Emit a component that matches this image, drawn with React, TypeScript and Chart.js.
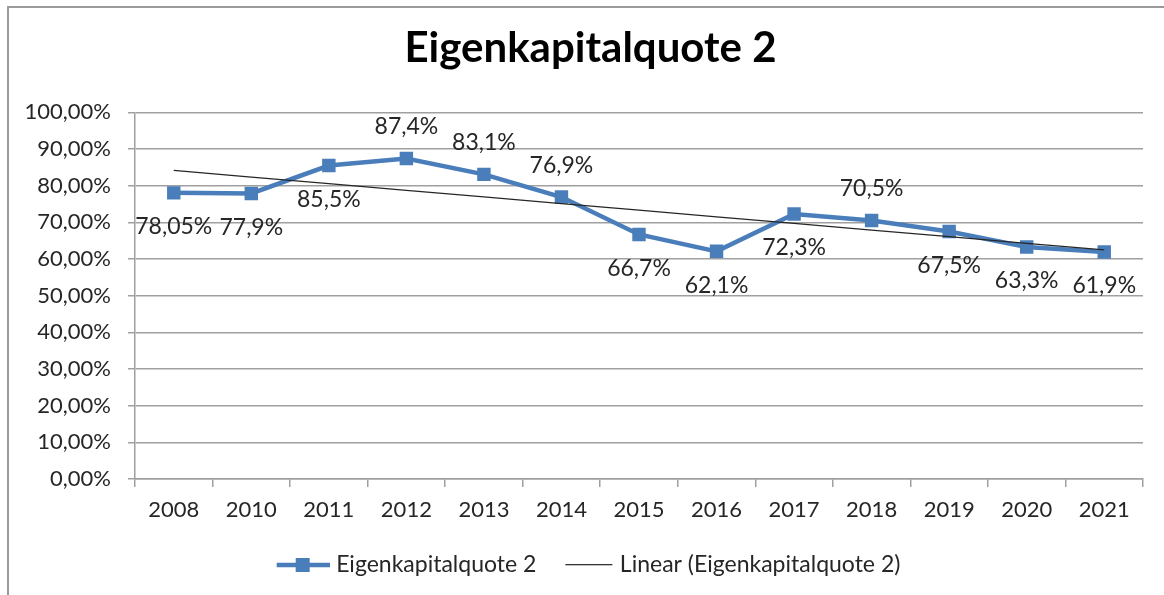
import React, { useEffect, useRef } from "react";
import { Chart, registerables } from "chart.js";

Chart.register(...registerables);

const categories = ["2008", "2010", "2011", "2012", "2013", "2014", "2015", "2016", "2017", "2018", "2019", "2020", "2021"];
const quoteValues = [78.05, 77.9, 85.5, 87.4, 83.1, 76.9, 66.7, 62.1, 72.3, 70.5, 67.5, 63.3, 61.9];
const valueLabels = ["78,05%", "77,9%", "85,5%", "87,4%", "83,1%", "76,9%", "66,7%", "62,1%", "72,3%", "70,5%", "67,5%", "63,3%", "61,9%"];
const labelSides = ["below", "below", "below", "above", "above", "above", "below", "below", "below", "above", "below", "below", "below"];
const yTicks = [0, 10, 20, 30, 40, 50, 60, 70, 80, 90, 100];

const seriesName = "Eigenkapitalquote 2";
const trendName = "Linear (Eigenkapitalquote 2)";
const titleText = "Eigenkapitalquote 2";

const FONT = "Lato, 'Open Sans', sans-serif";
const BLUE = "#4a7ebb";
const GRID = "#a0a0a0";

function linearTrend(values: number[]): number[] {
  const n = values.length;
  const mx = (n - 1) / 2;
  const my = values.reduce((a, b) => a + b, 0) / n;
  let sxy = 0;
  let sxx = 0;
  values.forEach((v, i) => {
    sxy += (i - mx) * (v - my);
    sxx += (i - mx) * (i - mx);
  });
  const slope = sxy / sxx;
  return values.map((_, i) => my + slope * (i - mx));
}

function makeSeriesSymbol(): HTMLCanvasElement {
  const c = document.createElement("canvas");
  c.width = 54;
  c.height = 16;
  const ctx = c.getContext("2d")!;
  ctx.strokeStyle = BLUE;
  ctx.lineWidth = 4.5;
  ctx.beginPath();
  ctx.moveTo(1, 8);
  ctx.lineTo(54, 8);
  ctx.stroke();
  ctx.fillStyle = BLUE;
  ctx.fillRect(20, 1, 14, 14);
  return c;
}

function makeTrendSymbol(): HTMLCanvasElement {
  const c = document.createElement("canvas");
  c.width = 54;
  c.height = 2;
  const ctx = c.getContext("2d")!;
  ctx.fillStyle = "#333";
  ctx.fillRect(6, 0, 47, 1.3);
  return c;
}

const frameBorder = {
  id: "frameBorder",
  afterLayout(chart: any) {
    // centre title and legend on the framed area, like the reference
    if (chart.titleBlock) chart.titleBlock.left = 38;
    if (chart.legend) chart.legend.left = 38;
  },
  beforeDraw(chart: any) {
    const ctx = chart.ctx;
    ctx.save();
    ctx.strokeStyle = "#9a9a9a";
    ctx.lineWidth = 2;
    ctx.beginPath();
    ctx.moveTo(1164, 7);
    ctx.lineTo(8, 7);
    ctx.lineTo(8, 595);
    ctx.stroke();
    ctx.restore();
  },
};

const dataLabels = {
  id: "dataLabels",
  afterDatasetsDraw(chart: any) {
    const meta = chart.getDatasetMeta(0);
    const ctx = chart.ctx;
    ctx.save();
    ctx.font = `23px ${FONT}`;
    ctx.fillStyle = "#262626";
    ctx.textAlign = "center";
    ctx.textBaseline = "middle";
    meta.data.forEach((pt: any, i: number) => {
      const dy = labelSides[i] === "above" ? -32 : 34;
      ctx.fillText(valueLabels[i], pt.x, pt.y + dy);
    });
    ctx.restore();
  },
};

export default function App() {
  const ref = useRef<HTMLCanvasElement | null>(null);

  useEffect(() => {
    if (!ref.current) return;
    const seriesSymbol = makeSeriesSymbol();
    const trendSymbol = makeTrendSymbol();
    const trendValues = linearTrend(quoteValues);

    const chart = new Chart(ref.current, {
      type: "line",
      data: {
        labels: categories,
        datasets: [
          {
            label: seriesName,
            data: quoteValues,
            borderColor: BLUE,
            backgroundColor: BLUE,
            borderWidth: 4.5,
            pointStyle: "rect",
            pointRadius: 9.5,
            pointBorderWidth: 0,
            pointBackgroundColor: BLUE,
            tension: 0,
            order: 1,
          },
          {
            label: trendName,
            data: trendValues,
            borderColor: "#262626",
            borderWidth: 1.3,
            pointRadius: 0,
            tension: 0,
            order: 0,
          },
        ],
      },
      options: {
        responsive: false,
        animation: false,
        layout: { padding: { left: 0, right: 21, top: 0, bottom: 8.5 } },
        plugins: {
          title: {
            display: true,
            text: titleText,
            color: "#000",
            font: { family: FONT, size: 42, weight: "bold" },
            padding: { top: 23, bottom: 39 },
          },
          legend: {
            position: "bottom",
            labels: {
              usePointStyle: true,
              pointStyleWidth: 44,
              padding: 28,
              color: "#262626",
              font: { family: FONT, size: 23 },
              generateLabels: () => [
                { text: seriesName, pointStyle: seriesSymbol, datasetIndex: 0, fillStyle: BLUE, strokeStyle: BLUE, lineWidth: 0, hidden: false, fontColor: "#262626" },
                { text: trendName, pointStyle: trendSymbol, datasetIndex: 1, fillStyle: "#333", strokeStyle: "#333", lineWidth: 0, hidden: false, fontColor: "#262626" },
              ] as any,
            },
          },
          tooltip: { enabled: false },
        },
        scales: {
          x: {
            offset: true,
            grid: {
              offset: true,
              drawOnChartArea: false,
              drawTicks: true,
              tickLength: 8,
              color: GRID,
              lineWidth: 1.5,
            },
            border: { display: true, color: GRID, width: 1.5 },
            ticks: {
              color: "#262626",
              font: { family: FONT, size: 22 },
              padding: 10,
              maxRotation: 0,
              autoSkip: false,
            },
            afterFit: (scale: any) => {
              scale.height = 46.5;
            },
          },
          y: {
            min: 0,
            max: 100,
            afterBuildTicks: (scale: any) => {
              scale.ticks = yTicks.map((v) => ({ value: v }));
            },
            grid: {
              color: GRID,
              lineWidth: 1.5,
              drawTicks: true,
              tickLength: 7,
            },
            border: { display: true, color: GRID, width: 1.5 },
            ticks: {
              color: "#262626",
              font: { family: FONT, size: 22 },
              padding: 17,
              callback: (v: any) => Number(v).toFixed(2).replace(".", ",") + "%",
            },
            afterFit: (scale: any) => {
              scale.width = 135;
            },
          },
        },
      },
      plugins: [frameBorder, dataLabels],
    });
    return () => chart.destroy();
  }, []);

  return (
    <div style={{ position: "fixed", left: 0, top: 0, width: 1164, height: 595, background: "#fff" }}>
      <canvas ref={ref} width={1164} height={595} style={{ display: "block", width: 1164, height: 595 }} />
    </div>
  );
}
